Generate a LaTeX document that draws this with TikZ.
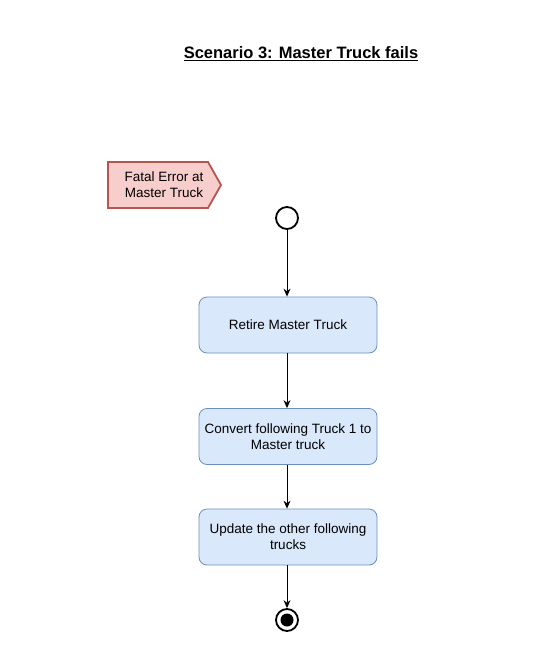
\documentclass[tikz,border=0pt]{standalone}
\usepackage{fontspec}
\setmainfont{Liberation Sans}
\usetikzlibrary{arrows.meta}
\definecolor{redfill}{HTML}{F8CECC}
\definecolor{redline}{HTML}{B85450}
\definecolor{bluefill}{HTML}{DAE8FC}
\definecolor{blueline}{HTML}{6C8EBF}
\tikzset{
  actbox/.style={draw=blueline, fill=bluefill, rounded corners=8pt, minimum width=178pt, minimum height=56pt, align=center, font=\fontsize{13.5}{16}\selectfont, line width=0.8pt},
  flow/.style={-{Stealth[length=8pt,width=7pt]}, line width=1pt},
}
\begin{document}
\begin{tikzpicture}[x=1pt,y=-1pt]
\useasboundingbox (0,0) rectangle (558,672);
\node (title) at (301,54) {\fontsize{16.5}{19}\selectfont\bfseries\underline{Scenario 3: Master Truck fails}};
\draw[draw=redline, fill=redfill, line width=1.8pt] (108,162) -- (208,162) -- (221,185) -- (208,208) -- (108,208) -- cycle;
\node[align=center, font=\fontsize{13.5}{16}\selectfont] (err) at (164,185) {Fatal Error at\\Master Truck};
\node[circle, draw, line width=1.8pt, minimum size=22pt, inner sep=0pt] (start) at (287,218) {};
\node[actbox] (b1) at (288,325) {Retire Master Truck};
\node[actbox] (b2) at (288,436.5) {Convert following Truck 1 to\\Master truck};
\node[actbox] (b3) at (288,537) {Update the other following\\trucks};
\node[circle, draw, line width=1.8pt, minimum size=22pt, inner sep=0pt] (end) at (287,620) {};
\fill (end.center) circle (6.5pt);
\draw[flow] (start) -- (start |- b1.north);
\draw[flow] (start |- b1.south) -- (start |- b2.north);
\draw[flow] (start |- b2.south) -- (start |- b3.north);
\draw[flow] (start |- b3.south) -- (end);
\end{tikzpicture}
\end{document}
